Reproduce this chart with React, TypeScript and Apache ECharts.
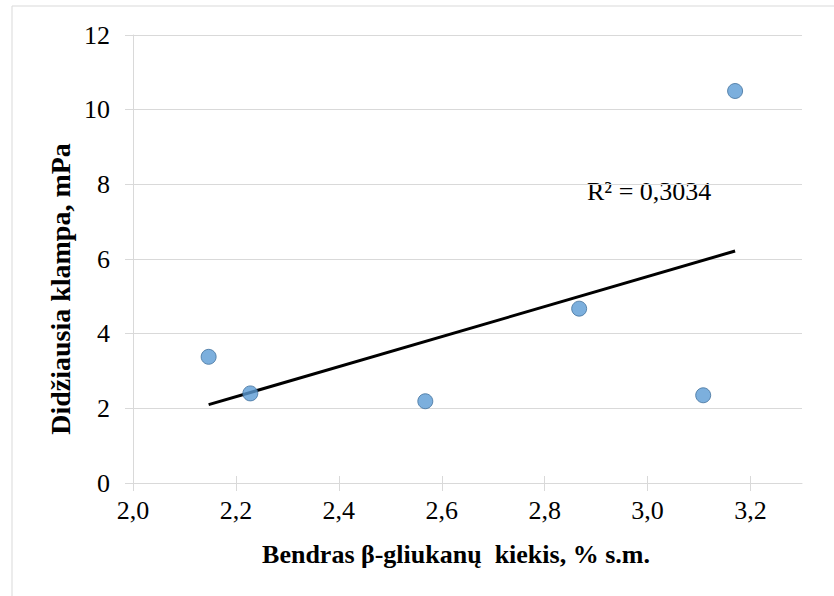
import React, { useEffect, useRef } from "react";
import * as echarts from "echarts";

// Measured samples: total β-glucan content (% d.m.) vs. peak viscosity (mPa)
const glucanContent = [2.147, 2.228, 2.568, 2.867, 3.108, 3.17];
const peakViscosity = [3.38, 2.4, 2.19, 4.67, 2.35, 10.5];

const xTicks = [2.0, 2.2, 2.4, 2.6, 2.8, 3.0, 3.2];
const yTicks = [0, 2, 4, 6, 8, 10, 12];
const rSquaredLabel = "R² = 0,3034";

const xTitle = "Bendras β-gliukanų  kiekis, % s.m.";
const yTitle = "Didžiausia klampa, mPa";

// Least-squares linear fit over the samples
function linearFit(xs: number[], ys: number[]) {
  const n = xs.length;
  const mx = xs.reduce((a, b) => a + b, 0) / n;
  const my = ys.reduce((a, b) => a + b, 0) / n;
  let sxy = 0;
  let sxx = 0;
  for (let i = 0; i < n; i++) {
    sxy += (xs[i] - mx) * (ys[i] - my);
    sxx += (xs[i] - mx) * (xs[i] - mx);
  }
  const slope = sxy / sxx;
  return (x: number) => my + slope * (x - mx);
}

const FONT = "Liberation Serif";
const GRID_COLOR = "#d9d9d9";

export default function App() {
  const ref = useRef<HTMLDivElement>(null);

  useEffect(() => {
    if (!ref.current) return;
    const chart = echarts.init(ref.current, undefined, { renderer: "svg" });

    const fit = linearFit(glucanContent, peakViscosity);
    const xMin = Math.min(...glucanContent);
    const xMax = Math.max(...glucanContent);
    const trend = [
      [xMin, fit(xMin)],
      [xMax, fit(xMax)],
    ];

    const gridBox = { left: 133, top: 35, right: 32, bottom: 113, outerBoundsMode: "none" };

    const baseX = {
      type: "value",
      min: 2.0,
      max: 3.3,
      interval: 0.2,
      splitLine: { show: false },
    };
    const baseY = {
      type: "value",
      min: 0,
      max: 12,
      interval: 2,
    };

    chart.setOption({
      animation: false,
      backgroundColor: "#ffffff",
      textStyle: { fontFamily: FONT },
      grid: [gridBox, { ...gridBox }],
      xAxis: [
        {
          ...baseX,
          gridIndex: 0,
          axisLine: { show: true, lineStyle: { color: GRID_COLOR, width: 1 } },
          axisTick: {
            show: true,
            length: 8,
            customValues: xTicks,
            lineStyle: { color: GRID_COLOR, width: 1 },
          },
          axisLabel: {
            customValues: xTicks,
            margin: 14,
            color: "#000",
            fontFamily: FONT,
            fontSize: 26,
            formatter: (v: number) => v.toFixed(1).replace(".", ","),
          },
        },
        {
          ...baseX,
          gridIndex: 1,
          axisLine: { show: false },
          axisLabel: { show: false },
          axisTick: {
            show: true,
            inside: true,
            length: 7,
            customValues: xTicks,
            lineStyle: { color: GRID_COLOR, width: 1 },
          },
        },
      ],
      yAxis: [
        {
          ...baseY,
          gridIndex: 0,
          axisLine: { show: true, lineStyle: { color: GRID_COLOR, width: 1 } },
          axisTick: {
            show: true,
            length: 8,
            customValues: yTicks,
            lineStyle: { color: GRID_COLOR, width: 1 },
          },
          splitLine: { show: true, lineStyle: { color: GRID_COLOR, width: 1 } },
          axisLabel: {
            customValues: yTicks,
            margin: 23,
            color: "#000",
            fontFamily: FONT,
            fontSize: 26,
          },
        },
        {
          ...baseY,
          gridIndex: 1,
          axisLine: { show: false },
          axisLabel: { show: false },
          splitLine: { show: false },
          axisTick: {
            show: true,
            inside: true,
            length: 7,
            customValues: yTicks,
            lineStyle: { color: GRID_COLOR, width: 1 },
          },
        },
      ],
      series: [
        {
          type: "line",
          xAxisIndex: 0,
          yAxisIndex: 0,
          data: trend,
          showSymbol: false,
          symbol: "none",
          lineStyle: { color: "#000", width: 3 },
          z: 2,
        },
        {
          type: "scatter",
          xAxisIndex: 0,
          yAxisIndex: 0,
          data: glucanContent.map((x, i) => [x, peakViscosity[i]]),
          symbol: "circle",
          symbolSize: 15,
          itemStyle: { color: "#5b9bd5", borderColor: "#41719c", borderWidth: 1 },
          z: 3,
        },
      ],
      graphic: [
        {
          type: "rect",
          shape: { x: 12, y: 6, width: 900, height: 700 },
          style: { fill: "none", stroke: GRID_COLOR, lineWidth: 1 },
          silent: true,
          z: -1,
        },
        {
          type: "text",
          x: 60,
          y: 289,
          rotation: Math.PI / 2,
          style: {
            text: yTitle,
            fontFamily: FONT,
            fontWeight: "bold",
            fontSize: 28,
            fill: "#000",
            align: "center",
            verticalAlign: "middle",
          },
        },
        {
          type: "text",
          x: 456,
          y: 554,
          style: {
            text: xTitle,
            fontFamily: FONT,
            fontWeight: "bold",
            fontSize: 26,
            fill: "#000",
            align: "center",
            verticalAlign: "middle",
          },
        },
        {
          type: "text",
          x: 587,
          y: 191,
          style: {
            text: rSquaredLabel,
            fontFamily: FONT,
            fontSize: 26,
            fill: "#000",
            align: "left",
            verticalAlign: "middle",
          },
        },
      ],
    });

    return () => chart.dispose();
  }, []);

  return (
    <div
      ref={ref}
      style={{ position: "fixed", left: 0, top: 0, width: 834, height: 596 }}
    />
  );
}
